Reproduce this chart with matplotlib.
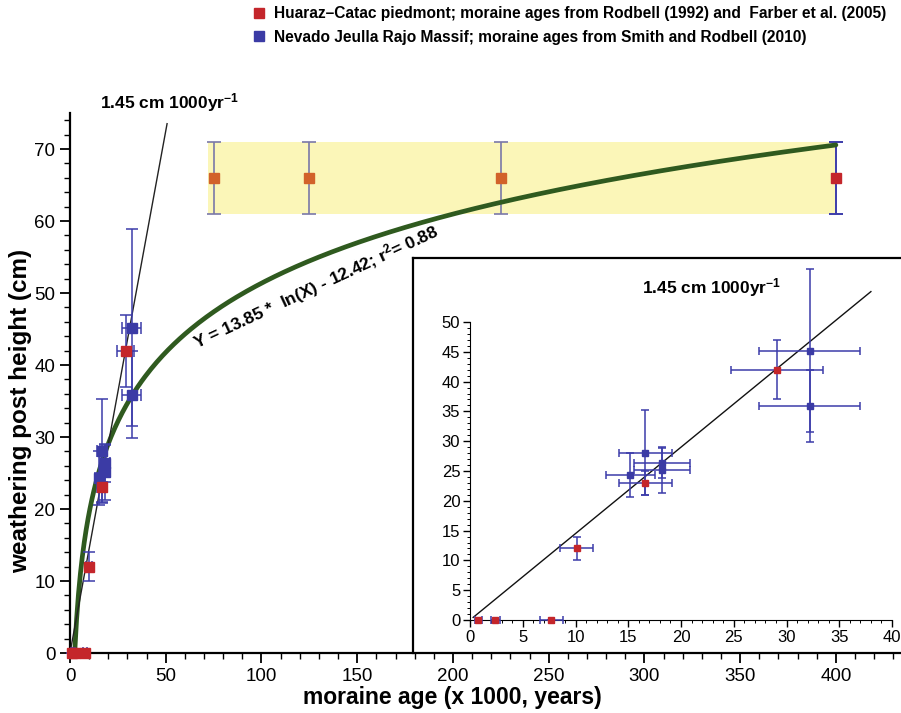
import matplotlib
matplotlib.use("Agg")
from matplotlib import pyplot as plt
from matplotlib.lines import Line2D
from matplotlib.ticker import MultipleLocator
import numpy as np

plt.rcParams['font.family'] = ['Liberation Sans', 'DejaVu Sans']
plt.rcParams['mathtext.fontset'] = 'custom'
plt.rcParams['mathtext.rm'] = 'Liberation Sans'
plt.rcParams['mathtext.bf'] = 'Liberation Sans:bold'
plt.rcParams['mathtext.default'] = 'bf'

# Huaraz-Catac piedmont (red)
red_age = [0.8, 2.4, 7.7, 10.1, 16.6, 29.1]
red_age_err = [0.3, 0.4, 1.1, 1.55, 2.5, 4.4]
red_h = [0, 0, 0, 12, 23, 42]
red_h_err = [0, 0, 0, 2.0, 2.0, 5.0]

# old moraines, upper band
old_age = [75, 125, 225, 400]
old_h = [66, 66, 66, 66]
old_h_err = [5, 5, 5, 5]
band_x = [72, 400]
band_y = [61, 71]

# Nevado Jeulla Rajo Massif (blue)
blue_age = [32.2, 32.2, 16.6, 15.2, 18.2, 18.2]
blue_age_err = [4.8, 4.8, 2.5, 2.3, 2.7, 2.7]
blue_h = [45.2, 35.9, 28.1, 24.3, 25.1, 26.4]
blue_h_err = [13.7, 6.0, 7.2, 3.7, 3.8, 2.6]

# fits
rate = 1.45
fit_a, fit_b = 13.85, -12.42

red_c = "#c4262b"
blue_c = "#3b3ba5"
orange_c = "#d2622a"
bar_c = "#3c3caa"
gray_bar = "#7a78a8"
green_c = "#2f5a1f"

fig = plt.figure(figsize=(9.01, 7.13), dpi=100)

# ---- inset frame (behind the main axes, so the main spine stays on top) ----
frame = fig.add_axes([413 / 901, 60 / 713, (901 - 413 + 5) / 901, (653 - 258) / 713])
frame.set_xticks([])
frame.set_yticks([])
frame.set_facecolor("white")
frame.spines["bottom"].set_visible(False)
frame.spines["right"].set_visible(False)
for s in ["left", "top"]:
    frame.spines[s].set_linewidth(1.6)
frame.set_zorder(0)

# ---- main axes ----
ax = fig.add_axes([70 / 901, 60 / 713, 831 / 901, 540 / 713])
ax.set_zorder(1)
ax.patch.set_alpha(0)
ax.set_xlim(0, 434)
ax.set_ylim(0, 75)
for s in ["top", "right"]:
    ax.spines[s].set_visible(False)
for s in ["left", "bottom"]:
    ax.spines[s].set_linewidth(1.6)
ax.xaxis.set_major_locator(MultipleLocator(50))
ax.xaxis.set_minor_locator(MultipleLocator(10))
ax.yaxis.set_major_locator(MultipleLocator(10))
ax.yaxis.set_minor_locator(MultipleLocator(2))
ax.tick_params(which="major", length=7, width=1.3, labelsize=13.5)
ax.tick_params(which="minor", length=4, width=1.0)
ax.set_xlabel("moraine age (x 1000, years)", fontsize=16.5, fontweight="bold")
ax.set_ylabel("weathering post height (cm)", fontsize=17.5, fontweight="bold")
ax.xaxis.set_label_coords((452 - 70) / 831, (653 - 686) / 540)
ax.yaxis.set_label_coords((32 - 70) / 831, (653 - 411) / 540)

ax.fill_between(band_x, band_y[0], band_y[1], color="#fbf6b8", zorder=1, lw=0)

xs = np.linspace(np.exp(-fit_b / fit_a), 400, 400)
ax.plot(xs, fit_a * np.log(xs) + fit_b, color=green_c, lw=3.4, zorder=3, solid_capstyle="round")
xl = np.array([0, 50.7])
ax.plot(xl, rate * xl, color="#222222", lw=1.0, zorder=4)

ax.errorbar(old_age[:3], old_h[:3], yerr=old_h_err[:3], fmt="none", ecolor=gray_bar,
            elinewidth=1.2, capsize=5, capthick=1.2, zorder=2)
ax.errorbar(old_age[3:], old_h[3:], yerr=old_h_err[3:], fmt="none", ecolor=bar_c,
            elinewidth=1.4, capsize=5, capthick=1.4, zorder=2)
ax.plot(old_age[:3], old_h[:3], "s", color=orange_c, ms=7.5, zorder=5)
ax.plot(old_age[3:], old_h[3:], "s", color=red_c, ms=7.5, zorder=5)

ax.errorbar(blue_age, blue_h, xerr=blue_age_err, yerr=blue_h_err, fmt="none", ecolor=bar_c,
            elinewidth=1.1, capsize=4, capthick=1.1, zorder=4, clip_on=False)
ax.errorbar(red_age, red_h, xerr=red_age_err, yerr=red_h_err, fmt="none", ecolor=bar_c,
            elinewidth=1.1, capsize=4, capthick=1.1, zorder=4, clip_on=False)
ax.plot(blue_age, blue_h, "s", color=blue_c, ms=7.5, zorder=5, clip_on=False)
ax.plot(red_age, red_h, "s", color=red_c, ms=7.5, zorder=5, clip_on=False)

fig.text(100 / 901, 1 - 103 / 713, r"1.45 cm 1000yr$^{-1}$", fontsize=12.5, fontweight="bold",
         va="center", ha="left")
fig.text(316 / 901, 1 - 287 / 713, r"Y = 13.85 *  ln(X) - 12.42; r$^{2}$= 0.88", fontsize=12.5,
         fontweight="bold", rotation=25, ha="center", va="center", rotation_mode="anchor")

# ---- inset axes ----
ins = fig.add_axes([470 / 901, (713 - 620) / 713, (892 - 470) / 901, (620 - 322) / 713])
ins.set_zorder(2)
ins.patch.set_alpha(0)
ins.set_xlim(0, 40)
ins.set_ylim(0, 50)
for s in ["top", "right"]:
    ins.spines[s].set_visible(False)
ins.xaxis.set_major_locator(MultipleLocator(5))
ins.xaxis.set_minor_locator(MultipleLocator(1))
ins.yaxis.set_major_locator(MultipleLocator(5))
ins.yaxis.set_minor_locator(MultipleLocator(1))
ins.tick_params(which="major", length=5, width=1.0, labelsize=12, pad=2)
ins.tick_params(which="minor", length=2.5, width=0.7)

xi = np.array([0.3, 38])
ins.plot(xi, rate * xi, color="#111111", lw=1.0, zorder=2, clip_on=False)
ins.errorbar(blue_age, blue_h, xerr=blue_age_err, yerr=blue_h_err, fmt="none", ecolor=bar_c,
             elinewidth=1.1, capsize=3, capthick=1.1, zorder=3, clip_on=False)
ins.errorbar(red_age, red_h, xerr=red_age_err, yerr=red_h_err, fmt="none", ecolor=bar_c,
             elinewidth=1.1, capsize=3, capthick=1.1, zorder=3, clip_on=False)
ins.plot(blue_age, blue_h, "s", color=blue_c, ms=4, zorder=4, clip_on=False)
ins.plot(red_age, red_h, "s", color=red_c, ms=4.5, zorder=4, clip_on=False)
fig.text(642 / 901, 1 - 288 / 713, r"1.45 cm 1000yr$^{-1}$", fontsize=12.5, fontweight="bold",
         va="center", ha="left", zorder=10)

# ---- legend ----
handles = [Line2D([], [], marker="s", ls="none", color=red_c, ms=7),
           Line2D([], [], marker="s", ls="none", color=blue_c, ms=7)]
labels = ["Huaraz\u2013Catac piedmont; moraine ages from Rodbell (1992) and  Farber et al. (2005)",
          "Nevado Jeulla Rajo Massif; moraine ages from Smith and Rodbell (2010)"]
leg = fig.legend(handles, labels, loc="upper left", bbox_to_anchor=(250 / 901, 1 - 3 / 713),
                 frameon=False, handlelength=0.8, handletextpad=0.55, labelspacing=0.55,
                 prop={"size": 11.2, "weight": "bold"}, borderaxespad=0, borderpad=0.2)

fig.savefig("out.png", dpi=100)
